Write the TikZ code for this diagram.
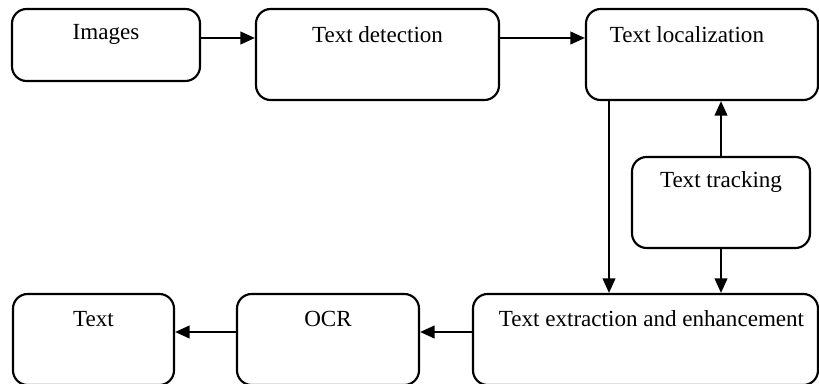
\documentclass[tikz,border=0pt]{standalone}
\usepackage{fontspec}
\setmainfont{Liberation Serif}
\usetikzlibrary{calc,arrows.meta}

\tikzset{
    stage/.style={draw,line width=1.6pt,rounded corners=11pt,inner sep=0pt},
    lbl/.style={inner sep=0pt,font=\fontsize{17.3}{20}\selectfont},
    arr/.style={line width=1.7pt,-{Triangle[length=11pt,width=9.5pt]}}
}

\begin{document}
\begin{tikzpicture}[x=0.75pt,y=0.75pt]
        \useasboundingbox (0,0) rectangle (819,383);
        % boxes (pixel grid, y up)
        \node[stage,minimum width=141pt,minimum height=54pt] (img) at (106,338) {};
        \node[stage,minimum width=182.25pt,minimum height=68.25pt] (det) at (377.5,328.5) {};
        \node[stage,minimum width=174pt,minimum height=68.25pt] (loc) at (702,328.5) {};
        \node[stage,minimum width=133.5pt,minimum height=68.25pt] (trk) at (721,180.5) {};
        \node[stage,minimum width=258.75pt,minimum height=68.25pt] (ext) at (645.5,43.5) {};
        \node[stage,minimum width=136.5pt,minimum height=68.25pt] (ocr) at (328,43.5) {};
        \node[stage,minimum width=120.75pt,minimum height=68.25pt] (txt) at (93.5,43.5) {};
        \node[lbl] (imgt) at ($(img.north)+(0,-27)$) {Images};
        \node[lbl] (dett) at ($(det.north)+(0,-27)$) {Text detection};
        \node[lbl] (loct) at ($(loc.north)+(-15,-27)$) {Text localization};
        \node[lbl] (trkt) at ($(trk.north)+(0,-26)$) {Text tracking};
        \node[lbl] (extt) at ($(ext.north)+(6,-26)$) {Text extraction and enhancement};
        \node[lbl] (ocrt) at ($(ocr.north)+(0,-26)$) {OCR};
        \node[lbl] (txtt) at ($(txt.north)+(0,-26)$) {Text};
        \coordinate (toprow) at (0,345);
        \coordinate (botrow) at (0,51);
        \coordinate (drop) at (609,0);
        \draw[arr] (img.east |- toprow) -- (det.west |- toprow);
        \draw[arr] (det.east |- toprow) -- (loc.west |- toprow);
        \draw[arr] (loc.south -| drop) -- (ext.north -| drop);
        \draw[arr] (trk.north) -- (loc.south -| trk.north);
        \draw[arr] (trk.south) -- (ext.north -| trk.south);
        \draw[arr] (ext.west |- botrow) -- (ocr.east |- botrow);
        \draw[arr] (ocr.west |- botrow) -- (txt.east |- botrow);
    \end{tikzpicture}
\end{document}
